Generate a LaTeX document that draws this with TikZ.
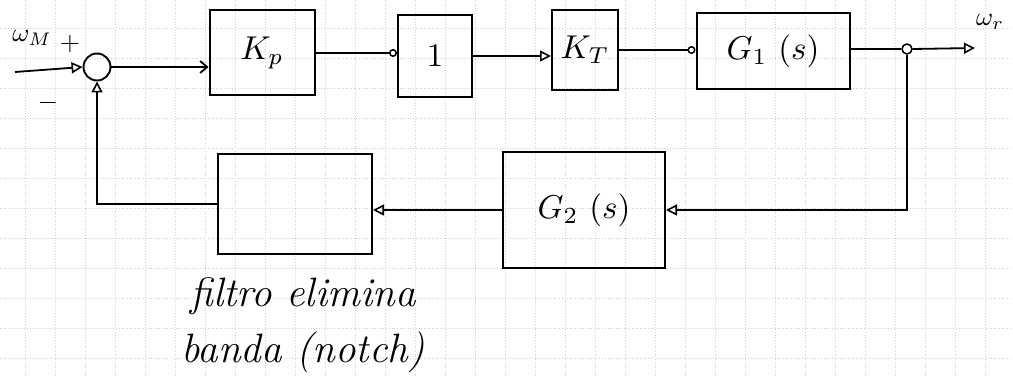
\documentclass[tikz,border=0pt]{standalone}
\usepackage{fix-cm}
\usepackage{graphicx}
\usetikzlibrary{arrows.meta}
\newcommand{\blkmath}[1]{\scalebox{3.3}{$#1$}}
\newcommand{\lblmath}[1]{\scalebox{2.6}{$#1$}}
\begin{document}
\begin{tikzpicture}[x=1pt,y=-1pt,
  blk/.style={draw,line width=2pt,rectangle,inner sep=0pt},
  wire/.style={line width=1.8pt},
  tri/.style={wire,-{Triangle[open,length=11pt,width=11pt,line width=1.6pt]}},
  ring/.style={wire,-{Circle[open,length=8pt,line width=1.5pt]}},
  barb/.style={wire,-{Straight Barb[length=7pt,width=12pt,line width=1.8pt]}},
  hand/.style={font=\fontsize{41}{56}\selectfont\itshape,align=center}]
\useasboundingbox (0,0) rectangle (1013,377);
% faint grid of the paper
\foreach \gx in {25,55,...,1005} \draw[black!18,dotted,line width=0.7pt] (\gx,0) -- (\gx,377);
\foreach \gy in {-2,28,...,376} \draw[black!18,dotted,line width=0.7pt] (0,\gy) -- (1013,\gy);
% blocks
\node[draw,circle,line width=1.9pt,minimum size=27pt,inner sep=0pt] (sum) at (97,67) {};
\node[blk,minimum width=105pt,minimum height=85pt] (Kp) at (262,53) {\blkmath{K_p}};
\node[blk,minimum width=74pt,minimum height=82pt] (one) at (435,56) {\blkmath{1}};
\node[blk,minimum width=66pt,minimum height=80pt] (KT) at (585,50) {\blkmath{K_T}};
\node[blk,minimum width=153pt,minimum height=76pt] (G1) at (773,51) {\blkmath{G_1\ (s)}};
\node[blk,minimum width=162pt,minimum height=115pt] (G2) at (584,210) {\blkmath{G_2\ (s)}};
\node[blk,minimum width=154pt,minimum height=99pt] (filt) at (295,204) {};
\node[draw,circle,line width=1.5pt,minimum size=10pt,inner sep=0pt] (br) at (907,49) {};
\coordinate (in) at (15,72);
\coordinate (out) at (975,48);
% labels
\node (lin) at (32,38) {\lblmath{\omega_M}};
\node (lplus) at (70,44) {\lblmath{+}};
\node (lminus) at (48,103) {\lblmath{-}};
\node (lout) at (990,22) {\lblmath{\omega_r}};
\node[hand] (note) at (303,325) {filtro elimina\\banda (notch)};
% connectors
\draw[tri] (in) -- (sum.west);
\draw[barb] (sum.east) -- (sum.east -| Kp.west);
\draw[ring] (Kp.east) -- (Kp.east -| one.west);
\draw[tri] (one.east) -- (one.east -| KT.west);
\draw[ring] (KT.east) -- (KT.east -| G1.west);
\draw[wire] (G1.east |- br) -- (br.west);
\draw[tri] (br.east) -- (out);
\draw[tri] (br.south) |- (G2.east);
\draw[tri] (G2.west) -- (filt.east |- G2.west);
\draw[tri] (filt.west) -| (sum.south);
\end{tikzpicture}
\end{document}
